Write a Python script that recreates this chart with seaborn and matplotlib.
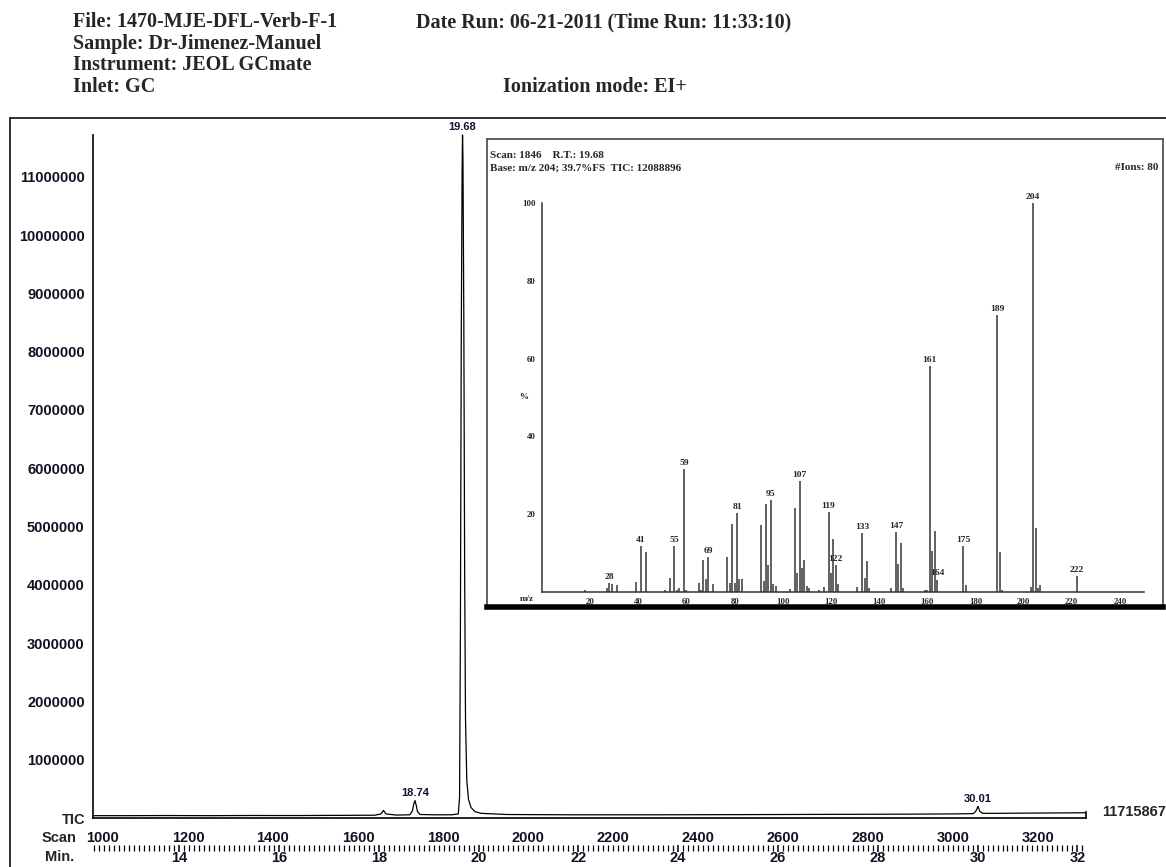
import numpy as np
import pandas as pd
import seaborn as sns
import matplotlib
matplotlib.use('Agg')
import matplotlib.pyplot as plt
from matplotlib.lines import Line2D
from matplotlib.ticker import MultipleLocator, FixedLocator, FuncFormatter

# Run header
header_left = ['File: 1470-MJE-DFL-Verb-F-1', 'Sample: Dr-Jimenez-Manuel',
               'Instrument: JEOL GCmate', 'Inlet: GC']
date_run = 'Date Run: 06-21-2011 (Time Run: 11:33:10)'
ion_mode = 'Ionization mode: EI+'

# TIC chromatogram, points
tic_scan = [978, 1050, 1150, 1250, 1350, 1450, 1550, 1640, 1654, 1660, 1666, 1690,
            1722, 1728, 1731, 1734, 1737, 1740, 1746, 1780, 1820, 1836, 1839, 1841,
            1843, 1845, 1846, 1847, 1849, 1851, 1853, 1856, 1860, 1866, 1875, 1890,
            1950, 2100, 2300, 2500, 2700, 2900, 3000, 3048, 3054, 3059, 3063, 3070,
            3100, 3200, 3312]
tic_counts = [40000, 40000, 42000, 40000, 43000, 42000, 45000, 48000, 70000, 130000,
              70000, 50000, 55000, 120000, 230000, 300000, 220000, 110000, 60000,
              55000, 55000, 70000, 350000, 3200000, 8200000, 11100000, 11715867,
              11300000, 8600000, 4200000, 1700000, 650000, 320000, 180000, 110000,
              80000, 60000, 55000, 55000, 58000, 62000, 66000, 70000, 75000, 120000,
              200000, 115000, 80000, 80000, 85000, 90000]
tic_full_scale = 11715867
peak_scan = [1734, 1846, 3059]
peak_rt = ['18.74', '19.68', '30.01']
scan_ticks = list(range(1000, 3201, 200))
min_ticks = list(range(14, 33, 2))
count_ticks = [1000000 * i for i in range(1, 12)]

# Mass spectrum of scan 1846
ms_title = ['Scan: 1846    R.T.: 19.68', 'Base: m/z 204; 39.7%FS  TIC: 12088896']
ms_ions = '#Ions: 80'
mz = [18, 27, 28, 29, 31, 39, 41, 43, 51, 53, 55, 56, 57, 59, 60, 65, 66, 67, 68, 69,
      71, 77, 78, 79, 80, 81, 82, 83, 91, 92, 93, 94, 95, 96, 97, 103, 105, 106, 107,
      108, 109, 110, 111, 115, 117, 119, 120, 121, 122, 123, 131, 133, 134, 135, 136,
      145, 147, 148, 149, 150, 159, 160, 161, 162, 163, 164, 175, 176, 189, 190, 191,
      203, 204, 205, 206, 207, 222]
rel_abund = [0.6, 1.1, 2.3, 2.1, 1.7, 2.6, 11.7, 10.4, 0.4, 3.6, 11.9, 0.5, 1.0, 31.7,
             0.5, 2.3, 0.5, 8.1, 3.3, 9.1, 2.0, 9.1, 2.3, 17.4, 2.4, 20.4, 3.4, 3.4,
             17.1, 2.8, 22.7, 6.9, 23.7, 2.1, 1.5, 0.8, 21.6, 4.8, 28.5, 6.2, 8.2, 1.5,
             1.0, 0.5, 1.3, 20.5, 5.0, 13.6, 7.0, 2.0, 1.4, 15.1, 3.6, 8.0, 1.0, 1.1,
             15.4, 7.1, 12.7, 1.1, 0.4, 0.4, 58.2, 10.5, 15.7, 3.2, 11.7, 1.7, 71.1,
             10.3, 0.4, 1.3, 100.0, 16.5, 0.9, 1.7, 4.1]
mz_labelled = [28, 41, 55, 59, 69, 81, 95, 107, 119, 122, 133, 147, 161, 164, 175,
               189, 204, 222]

df_tic = pd.DataFrame({'scan': tic_scan, 'counts': tic_counts})
df_ms = pd.DataFrame({'mz': mz, 'abund': rel_abund})

# scan -> retention time, from the two labelled peaks
s0, s1 = peak_scan[1], peak_scan[2]
t0, t1 = float(peak_rt[1]), float(peak_rt[2])
min_per_scan = (t1 - t0) / (s1 - s0)


def scan2min(s):
    return t0 + (np.asarray(s) - s0) * min_per_scan


def min2scan(t):
    return s0 + (np.asarray(t) - t0) / min_per_scan


sns.set_theme(style='white')
plt.rcParams['font.family'] = ['Liberation Sans', 'DejaVu Sans']
plt.rcParams['font.weight'] = 'bold'
serif = ['Liberation Serif', 'DejaVu Serif']

W, H = 1166, 867
fig = plt.figure(figsize=(W / 100, H / 100), dpi=100)
fig.patch.set_facecolor('white')


def box(x0, y0, x1, y1):
    return [x0 / W, 1 - y1 / H, (x1 - x0) / W, (y1 - y0) / H]


# header text
for i, line in enumerate(header_left):
    fig.text(73 / W, 1 - (22 + 21.7 * i) / H, line, family=serif, fontsize=14.5,
             fontweight='bold', va='center', ha='left')
fig.text(416 / W, 1 - 22 / H, date_run, family=serif, fontsize=14.5,
         fontweight='bold', va='center')
fig.text(503 / W, 1 - 87 / H, ion_mode, family=serif, fontsize=14.5,
         fontweight='bold', va='center')

# outer frame
fig.add_artist(Line2D([10 / W, 10 / W], [0, 1 - 118 / H], color='#222222', lw=1.3))
fig.add_artist(Line2D([10 / W, 1], [1 - 118 / H, 1 - 118 / H], color='#222222', lw=1.3))

# ---- chromatogram ----
ax = fig.add_axes(box(93, 135, 1086, 818))
sns.lineplot(data=df_tic, x='scan', y='counts', ax=ax, color='black', lw=0.9,
             estimator=None, sort=False)
ax.lines[-1].set_clip_on(False)
ax.set_xlim(976.5, 3313)
ax.set_ylim(0, tic_full_scale)
ax.set_xlabel('')
ax.set_ylabel('')
ax.spines['top'].set_visible(False)
for side in ['left', 'bottom', 'right']:
    ax.spines[side].set_color('black')
    ax.spines[side].set_linewidth(1.2)
ax.spines['right'].set_bounds(0, 100000)

ax.xaxis.set_major_locator(FixedLocator(scan_ticks))
ax.xaxis.set_minor_locator(MultipleLocator(50))
ax.yaxis.set_major_locator(FixedLocator(count_ticks))
ax.yaxis.set_minor_locator(MultipleLocator(500000))
ax.yaxis.set_major_formatter(FuncFormatter(lambda v, p: f'{v:.0f}'))
ax.tick_params(axis='both', which='both', direction='out', color='black', width=1.1,
               labelsize=10.5, labelcolor='#111122')
ax.tick_params(axis='x', which='major', length=5, pad=4)
ax.tick_params(axis='x', which='minor', length=4.5)
ax.tick_params(axis='y', which='major', length=5, pad=1)
ax.tick_params(axis='y', which='minor', length=5)
ax.tick_params(right=False, which='both')
for lab in ax.get_xticklabels() + ax.get_yticklabels():
    lab.set_fontweight('bold')

# retention-time axis under the scan axis
sec = ax.secondary_xaxis((818 - 845) / (818 - 135), functions=(scan2min, min2scan))
sec.spines['bottom'].set_visible(False)
sec.xaxis.set_major_locator(FixedLocator(min_ticks))
sec.xaxis.set_minor_locator(MultipleLocator(0.1))
sec.tick_params(which='major', length=5, width=1.1, pad=-0.5, labelsize=10.5,
                labelcolor='#111122', color='black')
sec.tick_params(which='minor', length=4, width=0.9, color='black')
for lab in sec.get_xticklabels():
    lab.set_fontweight('bold')

for s, rt in zip(peak_scan, peak_rt):
    top = df_tic.loc[df_tic['scan'] == s, 'counts'].iloc[0]
    ax.annotate(rt, (s, top), xytext=(0, 2), textcoords='offset points',
                ha='center', va='bottom', fontsize=8, fontweight='bold',
                color='#111133', annotation_clip=False)

fig.text(86 / W, 1 - 820 / H, 'TIC', ha='right', va='center', fontsize=10.5,
         fontweight='bold')
fig.text(76 / W, 1 - 838 / H, 'Scan', ha='right', va='center', fontsize=10.5,
         fontweight='bold')
fig.text(74 / W, 1 - 857 / H, 'Min.', ha='right', va='center', fontsize=10.5,
         fontweight='bold')
fig.text(1102 / W, 1 - 812 / H, str(tic_full_scale), ha='left', va='center',
         fontsize=10.5, fontweight='bold')

# ---- mass spectrum inset ----
frame = fig.add_axes(box(487, 139, 1163, 607))
frame.set_facecolor('white')
frame.set_xticks([])
frame.set_yticks([])
for side in ['left', 'right', 'top']:
    frame.spines[side].set_color('#555555')
    frame.spines[side].set_linewidth(1.3)
frame.spines['bottom'].set_color('black')
frame.spines['bottom'].set_linewidth(4)

fig.text(490 / W, 1 - 155 / H, ms_title[0], family=serif, fontsize=8,
         fontweight='bold', va='center')
fig.text(490 / W, 1 - 168 / H, ms_title[1], family=serif, fontsize=8,
         fontweight='bold', va='center')
fig.text(1158 / W, 1 - 168 / H, ms_ions, family=serif, fontsize=8,
         fontweight='bold', va='center', ha='right')

ms = fig.add_axes(box(542, 203, 1144, 592))
ms.patch.set_alpha(0)
ms.vlines(df_ms['mz'], 0, df_ms['abund'], color='#555555', lw=1.3)
ms.set_xlim(0, 250)
ms.set_ylim(0, 100)
for side in ['top', 'right']:
    ms.spines[side].set_visible(False)
for side in ['left', 'bottom']:
    ms.spines[side].set_color('#333333')
    ms.spines[side].set_linewidth(1.1)
ms.xaxis.set_major_locator(FixedLocator(list(range(20, 241, 20))))
ms.xaxis.set_minor_locator(MultipleLocator(5))
ms.yaxis.set_major_locator(FixedLocator(list(range(20, 101, 20))))
ms.yaxis.set_minor_locator(MultipleLocator(4))
ms.tick_params(axis='both', which='both', direction='out', color='#333333',
               width=0.9, labelsize=6.3)
ms.tick_params(which='major', length=3.5, pad=1)
ms.tick_params(which='minor', length=2.5)
for lab in ms.get_xticklabels() + ms.get_yticklabels():
    lab.set_family(serif)
    lab.set_fontweight('bold')

for m in mz_labelled:
    a = df_ms.loc[df_ms['mz'] == m, 'abund'].iloc[0]
    ms.annotate(str(m), (m, a), xytext=(0, 1.5), textcoords='offset points',
                ha='center', va='bottom', fontsize=6.8, fontweight='bold',
                family=serif, annotation_clip=False)

fig.text(527 / W, 1 - 599 / H, 'm/z', family=serif, fontsize=6.5,
         fontweight='bold', ha='center', va='center')
fig.text(524 / W, 1 - 397 / H, '%', family=serif, fontsize=6.5,
         fontweight='bold', ha='center', va='center')

fig.savefig('out.png', dpi=100)
